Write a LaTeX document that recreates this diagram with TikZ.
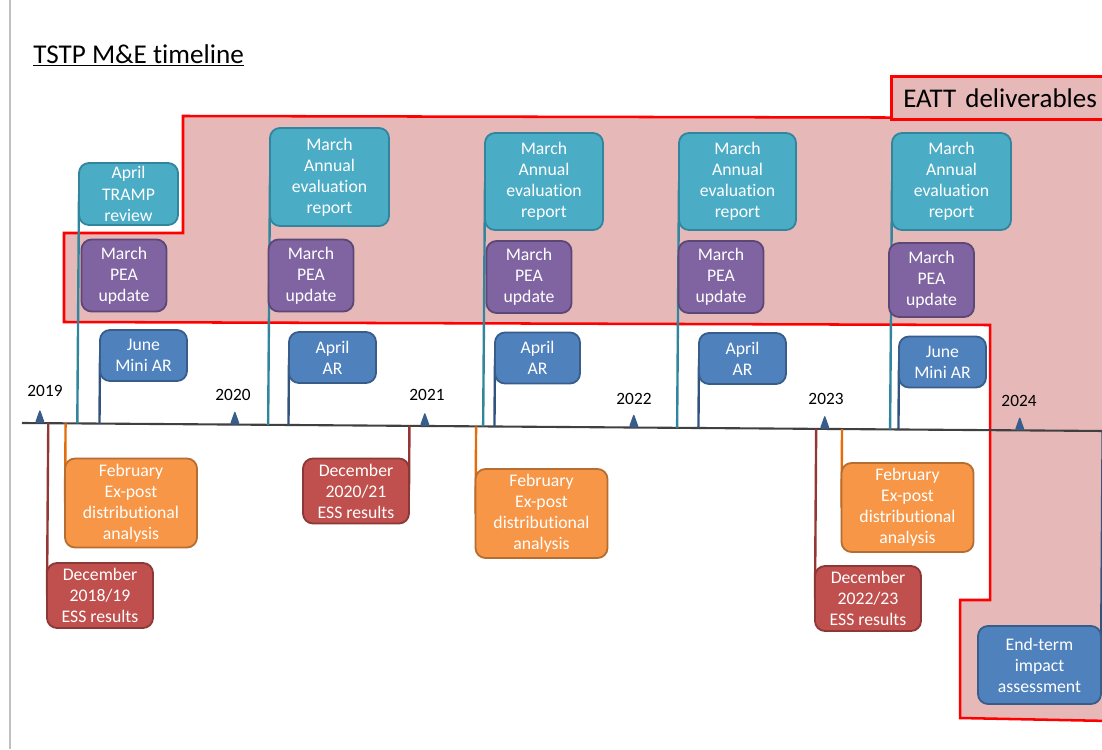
\documentclass[tikz,border=0pt]{standalone}
\usepackage{fontspec}
\setmainfont{Carlito}[Ligatures=NoCommon]
\usetikzlibrary{calc,positioning}
\definecolor{Zone}{HTML}{E6B9B8}
\definecolor{ZoneLine}{HTML}{FF0000}
\definecolor{Aqua}{HTML}{4BACC6}
\definecolor{AquaDark}{HTML}{31859C}
\definecolor{Plum}{HTML}{8064A2}
\definecolor{PlumDark}{HTML}{5C4776}
\definecolor{Steel}{HTML}{4F81BD}
\definecolor{SteelDark}{HTML}{385D8A}
\definecolor{Sun}{HTML}{F79646}
\definecolor{SunDark}{HTML}{B66D31}
\definecolor{SunLine}{HTML}{E46C0A}
\definecolor{Brick}{HTML}{C0504D}
\definecolor{BrickDark}{HTML}{8C3836}
\definecolor{BrickLine}{HTML}{943634}
\definecolor{Axis}{HTML}{404040}
\definecolor{Edge}{HTML}{BFBFBF}
\newlength\px
\setlength\px{0.025cm}
\pgfdeclarelayer{zonelayer}
\pgfdeclarelayer{linelayer}
\pgfsetlayers{zonelayer,linelayer,main}
\tikzset{
  card/.style={rounded corners=.25cm,line width=1.3pt,text=white,align=center,inner sep=0pt,outer sep=0pt,font=\fontsize{12.6}{15}\selectfont},
  evalbox/.style={card,draw=AquaDark,fill=Aqua},
  peabox/.style={card,draw=PlumDark,fill=Plum,minimum width=85\px,minimum height=72\px},
  arbox/.style={card,draw=SteelDark,fill=Steel,minimum width=87\px,minimum height=51\px},
  expostbox/.style={card,draw=SunDark,fill=Sun,minimum width=132\px,minimum height=89\px},
  essbox/.style={card,draw=BrickDark,fill=Brick,minimum width=106\px,minimum height=65\px},
  evalline/.style={draw=AquaDark,line width=1.7pt},
  arline/.style={draw=SteelDark!90!black,line width=1.7pt},
  expostline/.style={draw=SunLine,line width=1.7pt},
  essline/.style={draw=BrickLine,line width=1.7pt},
  zone/.style={draw=ZoneLine,fill=Zone,line width=1.8pt},
  axisline/.style={draw=Axis,line width=1.5pt},
  year/.style={font=\fontsize{12.3}{14}\selectfont,inner sep=0pt},
  tick/.style={fill=SteelDark,rounded corners=1.5pt}
}
\begin{document}
\begin{tikzpicture}[x=0.025cm,y=-0.025cm]
\useasboundingbox (0,0) rectangle (1102,749);
\draw[draw=Edge,line width=1pt] (10,0) -- (10,749);

\node[anchor=base west,font=\fontsize{19.3}{23}\selectfont,inner sep=0pt] (title) at (33,63) {\underline{TSTP M\&E timeline}};

% EATT zone
\begin{pgfonlayer}{zonelayer}
\draw[zone] (183,116) -- (1110,118) -- (1110,721) -- (960,718) -- (960,600) -- (990,600) -- (990,325) -- (64,322) -- (64,233) -- (183,233) -- cycle;
\node[zone,anchor=north west,minimum height=43\px,text width=210\px,inner xsep=12\px,align=left,font=\fontsize{19.2}{23}\selectfont] (eatt) at (890,75) {EATT deliverables};
\end{pgfonlayer}

% axis and years
\coordinate (axL) at (22,423);
\coordinate (axR) at (1106,431);
\foreach \yr/\xx/\lx/\ly in {2019/43/45/391,2020/238/233/395,2021/428/427/395,2022/637/634/399,2023/828/826/399,2024/1023/1019/401}{
  \node[year] (y\yr) at (\lx,\ly) {\yr};
  \coordinate (t\yr) at ($(axL)!(\xx,0)!(axR)$);
  \fill[tick] ([xshift=-5\px]t\yr) -- ([yshift=14\px]t\yr) -- ([xshift=5\px]t\yr) -- cycle;
}

% above the axis
\node[evalbox,minimum width=99\px,minimum height=62\px] (tramp) at (128.5,194) {April\\TRAMP\\review};
\node[evalbox,minimum width=119\px,minimum height=98\px] (eval1) at (329.5,177) {March\\Annual\\evaluation\\report};
\node[evalbox,minimum width=118\px,minimum height=97\px] (eval2) at (544,181.5) {March\\Annual\\evaluation\\report};
\node[evalbox,minimum width=117\px,minimum height=97\px] (eval3) at (737.5,181.5) {March\\Annual\\evaluation\\report};
\node[evalbox,minimum width=119\px,minimum height=97\px] (eval4) at (951.5,181.5) {March\\Annual\\evaluation\\report};

\node[peabox] (pea1) at (124,275.5) {March\\PEA\\update};
\node[peabox] (pea2) at (311,275.5) {March\\PEA\\update};
\node[peabox] (pea3) at (529,277) {March\\PEA\\update};
\node[peabox] (pea4) at (721,277) {March\\PEA\\update};
\node[peabox,minimum height=74\px] (pea5) at (931.5,280) {March\\PEA\\update};

\node[arbox] (ar1) at (143.5,355.5) {June\\Mini AR};
\node[arbox] (ar2) at (332.5,357.5) {April\\AR};
\node[arbox,minimum width=85\px] (ar3) at (537.5,358) {April\\AR};
\node[arbox] (ar4) at (742.5,358.5) {April\\AR};
\node[arbox] (ar5) at (942.5,362) {June\\Mini AR};

% below the axis
\node[expostbox] (post1) at (131,503) {February\\Ex-post\\distributional\\analysis};
\node[expostbox] (post2) at (541.5,513.5) {February\\Ex-post\\distributional\\analysis};
\node[expostbox] (post3) at (907.5,507.5) {February\\Ex-post\\distributional\\analysis};

\node[essbox] (ess1) at (100,595.5) {December\\2018/19\\ESS results};
\node[essbox] (ess2) at (356,491) {December\\2020/21\\ESS results};
\node[essbox] (ess3) at (868,598.5) {December\\2022/23\\ESS results};

\node[arbox,minimum width=123\px,minimum height=78\px] (endterm) at (1039.5,665) {End-term\\impact\\assessment};

\begin{pgfonlayer}{linelayer}
\draw[axisline] (axL) -- (axR);
\foreach \n in {tramp,eval1,eval2,eval3,eval4}
  \draw[evalline] (\n.west) -- ($(axL)!(\n.west)!(axR)$);
\foreach \n in {ar1,ar2,ar3,ar4,ar5}
  \draw[arline] (\n.west) -- ($(axL)!(\n.west)!(axR)$);
\draw[arline] (endterm.east) -- ($(axL)!(endterm.east)!(axR)$);
\foreach \n in {post1,post2,post3}
  \draw[expostline] (\n.west) -- ($(axL)!(\n.west)!(axR)$);
\draw[essline] (ess1.west) -- ($(axL)!(ess1.west)!(axR)$);
\draw[essline] (ess2.east) -- ($(axL)!(ess2.east)!(axR)$);
\draw[essline] (ess3.west) -- ($(axL)!(ess3.west)!(axR)$);
\end{pgfonlayer}
\end{tikzpicture}
\end{document}
